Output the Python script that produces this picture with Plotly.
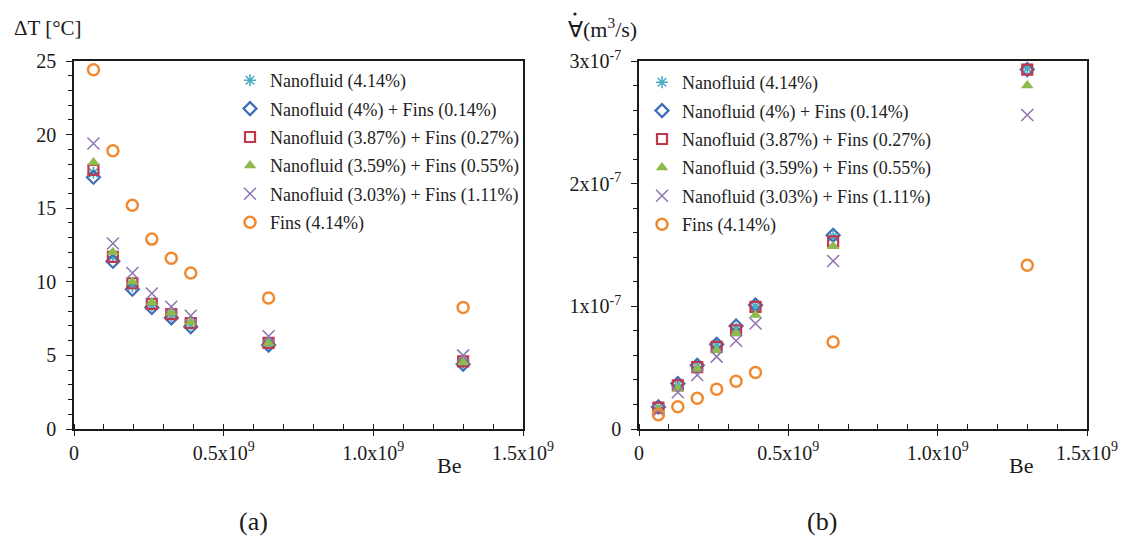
import plotly.graph_objects as go

# Bejan number of the test cases
be = [0.065e9, 0.13e9, 0.195e9, 0.26e9, 0.325e9, 0.39e9, 0.65e9, 1.3e9]

series_names = [
    "Nanofluid (4.14%)",
    "Nanofluid (4%) + Fins (0.14%)",
    "Nanofluid (3.87%) + Fins (0.27%)",
    "Nanofluid (3.59%) + Fins (0.55%)",
    "Nanofluid (3.03%) + Fins (1.11%)",
    "Fins (4.14%)",
]

# (a) temperature difference [°C]
dt_nf414 = [17.4, 11.7, 9.7, 8.4, 7.7, 7.1, 5.8, 4.5]
dt_nf400_f014 = [17.1, 11.4, 9.5, 8.25, 7.55, 6.95, 5.7, 4.4]
dt_nf387_f027 = [17.6, 11.7, 9.9, 8.5, 7.8, 7.2, 5.85, 4.6]
dt_nf359_f055 = [18.1, 12.0, 10.0, 8.6, 7.9, 7.25, 5.85, 4.55]
dt_nf303_f111 = [19.4, 12.6, 10.6, 9.2, 8.3, 7.7, 6.3, 5.0]
dt_fins414 = [24.4, 18.9, 15.2, 12.9, 11.6, 10.6, 8.9, 8.25]

# (b) volume flow rate [m^3/s]
q_nf414 = [1.75e-8, 3.6e-8, 5.1e-8, 6.8e-8, 8.2e-8, 1.0e-7, 1.57e-7, 2.94e-7]
q_nf400_f014 = [1.8e-8, 3.7e-8, 5.2e-8, 6.9e-8, 8.4e-8, 1.01e-7, 1.58e-7, 2.93e-7]
q_nf387_f027 = [1.75e-8, 3.55e-8, 5.05e-8, 6.7e-8, 8.05e-8, 9.95e-8, 1.53e-7, 2.93e-7]
q_nf359_f055 = [1.6e-8, 3.3e-8, 4.9e-8, 6.4e-8, 7.8e-8, 9.3e-8, 1.49e-7, 2.8e-7]
q_nf303_f111 = [1.5e-8, 3.0e-8, 4.4e-8, 5.9e-8, 7.2e-8, 8.6e-8, 1.37e-7, 2.56e-7]
q_fins414 = [1.17e-8, 1.82e-8, 2.5e-8, 3.25e-8, 3.9e-8, 4.6e-8, 7.1e-8, 1.335e-7]

# axis ticks
x_tickvals = [0, 0.5e9, 1.0e9, 1.5e9]
x_ticktext = ["0", "0.5x10<sup>9</sup>", "1.0x10<sup>9</sup>", "1.5x10<sup>9</sup>"]
dt_tickvals = [0, 5, 10, 15, 20, 25]
dt_ticktext = ["0", "5", "10", "15", "20", "25"]
q_tickvals = [0, 1e-7, 2e-7, 3e-7]
q_ticktext = ["0", "1x10<sup>-7</sup>", "2x10<sup>-7</sup>", "3x10<sup>-7</sup>"]

FONT = "Liberation Serif"
INK = "#1a1a1a"

styles = [
    dict(symbol="asterisk-open", color="#4BACC6", size=10, line=dict(width=1.6, color="#4BACC6")),
    dict(symbol="diamond-open", color="#3F6FB5", size=10, line=dict(width=2.2, color="#3F6FB5")),
    dict(symbol="square-open", color="#C0394B", size=10, line=dict(width=2.2, color="#C0394B")),
    dict(symbol="triangle-up", color="#8DBB4C", size=11, line=dict(width=0)),
    dict(symbol="x-thin-open", color="#8E74B0", size=12, line=dict(width=1.5, color="#8E74B0")),
    dict(symbol="circle-open", color="#F08A32", size=11, line=dict(width=2.5, color="#F08A32")),
]

dt_series = [dt_nf414, dt_nf400_f014, dt_nf387_f027, dt_nf359_f055, dt_nf303_f111, dt_fins414]
q_series = [q_nf414, q_nf400_f014, q_nf387_f027, q_nf359_f055, q_nf303_f111, q_fins414]

fig = go.Figure()

for i, (name, ys, st) in enumerate(zip(series_names, dt_series, styles)):
    fig.add_trace(go.Scatter(x=be, y=ys, mode="markers", name=name, marker=st,
                             xaxis="x", yaxis="y", legend="legend", legendgroup=f"a{i}"))
for i, (name, ys, st) in enumerate(zip(series_names, q_series, styles)):
    fig.add_trace(go.Scatter(x=be, y=ys, mode="markers", name=name, marker=st,
                             xaxis="x2", yaxis="y2", legend="legend2", legendgroup=f"b{i}"))

W, H = 1126, 540
y_dom = [(H - 429) / H, (H - 61) / H]

common_x = dict(
    range=[0, 1.5e9], tickvals=x_tickvals, ticktext=x_ticktext,
    showline=True, linecolor=INK, linewidth=1.5, mirror=True,
    ticks="outside", ticklen=5, tickwidth=1.3, tickcolor=INK,
    minor=dict(ticks="inside", ticklen=5, tickwidth=1.3, tickcolor=INK, dtick=0.1e9, tick0=0),
    showgrid=False, zeroline=False, automargin=False,
    tickfont=dict(family=FONT, size=20, color=INK),
)
common_y = dict(
    showline=True, linecolor=INK, linewidth=1.5, mirror=True,
    ticks="outside", ticklen=6, tickwidth=1.3, tickcolor=INK,
    showgrid=False, zeroline=False, ticklabelstandoff=6, automargin=False,
    tickfont=dict(family=FONT, size=20, color=INK),
)

legend_common = dict(
    xanchor="left", yanchor="top", bgcolor="rgba(255,255,255,0)",
    font=dict(family=FONT, size=18, color="#222"),
    itemwidth=30, tracegroupgap=2,
)

fig.update_layout(
    template="none",
    width=W, height=H,
    margin=dict(l=0, r=0, t=0, b=0, pad=0, autoexpand=False),
    paper_bgcolor="white", plot_bgcolor="white",
    font=dict(family=FONT, size=18, color=INK),
    xaxis=dict(domain=[74 / W, 523 / W], anchor="y", **common_x),
    yaxis=dict(domain=y_dom, anchor="x", range=[0, 25], tickvals=dt_tickvals, ticktext=dt_ticktext,
               minor=dict(ticks="outside", ticklen=4, tickwidth=1.3, tickcolor=INK, dtick=1, tick0=0),
               **common_y),
    xaxis2=dict(domain=[639 / W, 1087 / W], anchor="y2", **common_x),
    yaxis2=dict(domain=y_dom, anchor="x2", range=[0, 3e-7], tickvals=q_tickvals, ticktext=q_ticktext,
                minor=dict(ticks="outside", ticklen=4, tickwidth=1.3, tickcolor=INK, dtick=0.2e-7, tick0=0),
                **common_y),
    legend=dict(x=230 / W, y=(H - 62) / H, **legend_common),
    legend2=dict(x=642 / W, y=(H - 64) / H, **legend_common),
    showlegend=True,
)

annotations = [
    dict(text="ΔT [°C]", x=12 / W, y=(H - 28) / H, xanchor="left", yanchor="middle",
         font=dict(family=FONT, size=21, color=INK)),
    dict(text="∀(m<sup>3</sup>/s)", x=566 / W, y=(H - 28) / H, xanchor="left", yanchor="middle",
         font=dict(family=FONT, size=22, color=INK)),
    dict(text="Be", x=449 / W, y=(H - 465) / H, xanchor="center", yanchor="middle",
         font=dict(family=FONT, size=22, color=INK)),
    dict(text="Be", x=1021 / W, y=(H - 465) / H, xanchor="center", yanchor="middle",
         font=dict(family=FONT, size=22, color=INK)),
    dict(text="(a)", x=253 / W, y=(H - 521) / H, xanchor="center", yanchor="middle",
         font=dict(family=FONT, size=26, color=INK)),
    dict(text="(b)", x=822 / W, y=(H - 521) / H, xanchor="center", yanchor="middle",
         font=dict(family=FONT, size=26, color=INK)),
]
for a in annotations:
    a.update(xref="paper", yref="paper", showarrow=False)
fig.update_layout(annotations=annotations)

# dot over the flow-rate symbol (time derivative)
dot_x, dot_y, dot_r = 575, 14, 1.6
fig.add_shape(type="circle", xref="paper", yref="paper",
              x0=(dot_x - dot_r) / W, x1=(dot_x + dot_r) / W,
              y0=(H - dot_y - dot_r) / H, y1=(H - dot_y + dot_r) / H,
              fillcolor=INK, line=dict(width=0))

fig.write_html("out.html")
